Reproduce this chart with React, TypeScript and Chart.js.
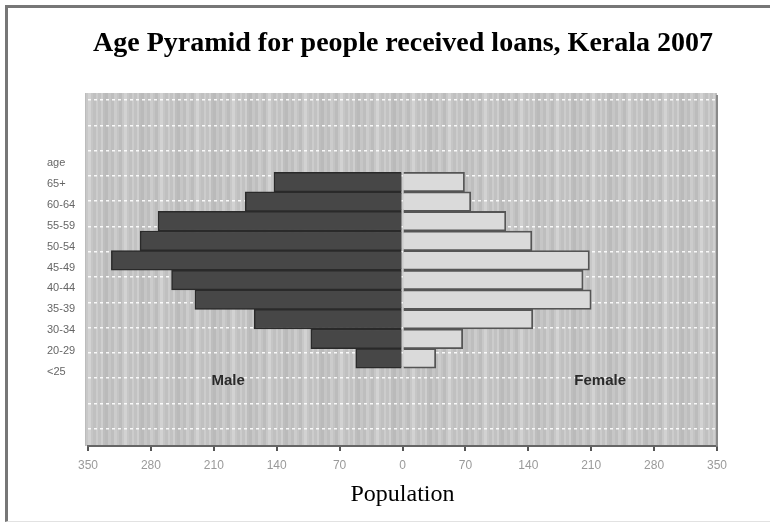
import { useEffect, useRef } from 'react';
import { Chart, registerables } from 'chart.js';

Chart.register(...registerables);

// ---- data ----
const ageGroups = ['65+', '60-64', '55-59', '50-54', '45-49', '40-44', '35-39', '30-34', '20-29', '<25'];
const maleValues = [143, 175, 272, 292, 324, 257, 231, 165, 102, 52];
const femaleValues = [69, 76, 115, 144, 208, 201, 210, 145, 67, 37];
const rowLabels = ['age', '65+', '60-64', '55-59', '50-54', '45-49', '40-44', '35-39', '30-34', '20-29', '<25'];
const xTickValues = [-350, -280, -210, -140, -70, 0, 70, 140, 210, 280, 350];
const gridRows = [0, 1, 2, 3, 4, 5, 6, 7, 8, 9, 10, 11, 12, 13];
const sexLabels = [
  { text: 'Male', value: -194 },
  { text: 'Female', value: 220 },
];
const sexLabelRow = 10.15;

const TITLE = 'Age Pyramid for people received loans, Kerala 2007';
const SERIF = "'Liberation Serif', 'Times New Roman', serif";
const SANS = "'Liberation Sans', Arial, sans-serif";

const stripeGrays = [198, 198, 198, 190, 190, 190, 204, 204, 204, 196, 196, 188, 188, 188, 200, 200, 210, 210, 210, 198, 198, 192, 192, 192, 204, 204, 194, 194, 194, 206, 206, 190, 190, 186, 186, 186];

export default function App() {
  const ref = useRef<HTMLCanvasElement>(null);

  useEffect(() => {
    const canvas = ref.current!;
    const pc = document.createElement('canvas');
    pc.width = stripeGrays.length;
    pc.height = 4;
    const pctx = pc.getContext('2d')!;
    stripeGrays.forEach((g, i) => {
      pctx.fillStyle = `rgb(${g},${g},${g})`;
      pctx.fillRect(i, 0, 1, 4);
    });
    const pattern = canvas.getContext('2d')!.createPattern(pc, 'repeat');

    const bgPlugin = {
      id: 'bgPlugin',
      beforeDraw(chart: any) {
        const { ctx, chartArea } = chart;
        ctx.save();
        ctx.fillStyle = pattern || '#c5c5c5';
        ctx.fillRect(chartArea.left - 3, chartArea.top - 3, chartArea.right - chartArea.left + 3, chartArea.bottom - chartArea.top + 3);
        ctx.restore();
      },
      afterDatasetsDraw(chart: any) {
        const { ctx, scales } = chart;
        ctx.save();
        ctx.font = `bold 15px ${SANS}`;
        ctx.fillStyle = '#2a2a2a';
        ctx.textAlign = 'center';
        ctx.textBaseline = 'middle';
        const y = scales.y.getPixelForValue(sexLabelRow);
        sexLabels.forEach((l) => {
          ctx.fillText(l.text, scales.x.getPixelForValue(l.value), y);
        });
        ctx.restore();
      },
    };

    const chart = new Chart(canvas, {
      type: 'bar',
      data: {
        datasets: [
          {
            label: 'Male',
            data: ageGroups.map((_, i) => ({ x: -maleValues[i], y: i })),
            backgroundColor: '#474747',
            borderColor: '#2a2a2a',
            borderWidth: 1.5,
            xAxisID: 'x',
            yAxisID: 'y',
          },
          {
            label: 'Female',
            data: ageGroups.map((_, i) => ({ x: femaleValues[i], y: i })),
            backgroundColor: '#dadada',
            borderColor: '#555',
            borderWidth: 1.8,
            xAxisID: 'x',
            yAxisID: 'y',
          },
        ],
      } as any,
      options: {
        indexAxis: 'y',
        responsive: false,
        animation: false,
        layout: { padding: { left: 47, right: 11, top: 0, bottom: 0 } },
        datasets: { bar: { barPercentage: 1, categoryPercentage: 1 } },
        plugins: {
          legend: { display: false },
          tooltip: { enabled: false },
          title: {
            display: true,
            text: TITLE,
            color: '#000',
            font: { family: SERIF, size: 28, weight: 'bold', lineHeight: 1.2 },
            padding: { top: 27, bottom: 35.4 },
          },
        },
        scales: {
          x: {
            type: 'linear',
            position: 'bottom',
            min: -350,
            max: 350,
            offset: false,
            stacked: true,
            afterBuildTicks: (s: any) => {
              s.ticks = xTickValues.map((v) => ({ value: v }));
            },
            afterFit: (s: any) => {
              s.height = 77;
            },
            ticks: {
              autoSkip: false,
              maxRotation: 0,
              callback: (v: any) => String(Math.abs(Number(v))),
              color: '#9a9a9a',
              font: { family: SANS, size: 12 },
              padding: 7,
            },
            grid: { display: true, offset: false, drawOnChartArea: false, drawTicks: true, tickLength: 5, color: '#555', lineWidth: 2 },
            border: { display: true, color: '#666', width: 2 },
            title: {
              display: true,
              text: 'Population',
              color: '#000',
              font: { family: SERIF, size: 24 },
              padding: { top: 0, bottom: 14 },
            },
          },
          y: {
            type: 'linear',
            display: false,
            reverse: true,
            stacked: true,
            offset: false,
            grid: { offset: false },
            min: -4.388,
            max: 13.469,
          },
          yl: {
            type: 'linear',
            position: 'left',
            reverse: true,
            offset: false,
            min: -3.206,
            max: 13.54,
            afterBuildTicks: (s: any) => {
              s.ticks = rowLabels.map((_, i) => ({ value: i }));
            },
            afterFit: (s: any) => {
              s.width = 41;
            },
            ticks: {
              autoSkip: false,
              crossAlign: 'far',
              callback: (_v: any, i: number) => rowLabels[i],
              color: '#666',
              font: { family: SANS, size: 11 },
            },
            grid: { display: false, offset: false },
            border: { display: false },
          },
          yg: {
            type: 'linear',
            position: 'right',
            reverse: true,
            offset: false,
            min: -0.16,
            max: 13.68,
            afterBuildTicks: (s: any) => {
              s.ticks = gridRows.map((v) => ({ value: v }));
            },
            afterFit: (s: any) => {
              s.width = 42;
            },
            ticks: { display: false },
            grid: { color: 'rgba(255,255,255,0.9)', lineWidth: 1.5, drawTicks: false, offset: false },
            border: { display: true, color: '#8a8a8a', width: 2, dash: [3, 3] },
          },
        },
      } as any,
      plugins: [bgPlugin],
    });

    return () => chart.destroy();
  }, []);

  return (
    <div style={{ position: 'fixed', left: 0, top: 0, width: 770, height: 523, background: '#fff' }}>
      <canvas ref={ref} width={770} height={523} style={{ position: 'absolute', left: 0, top: 0, width: 770, height: 523 }} />
      <div
        style={{
          position: 'absolute',
          left: 5,
          top: 5,
          width: 765,
          height: 517,
          boxSizing: 'border-box',
          borderLeft: '3px solid #777',
          borderTop: '3px solid #777',
          borderBottom: '1px solid #e2e2e2',
          pointerEvents: 'none',
        }}
      />
    </div>
  );
}
